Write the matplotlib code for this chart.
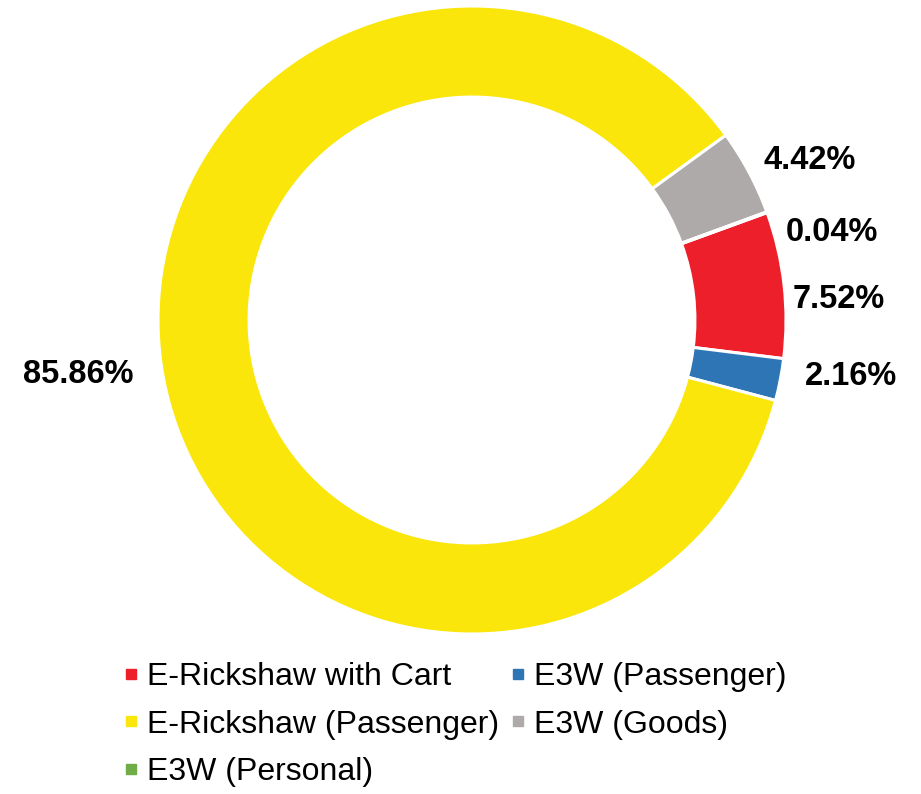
import numpy as np
import matplotlib.pyplot as plt
from matplotlib.lines import Line2D

plt.rcParams['font.family'] = ['Liberation Sans', 'DejaVu Sans']

# Datos (orden horario desde 20 grados)
categorias = ['E-Rickshaw with Cart', 'E3W (Passenger)', 'E-Rickshaw (Passenger)',
              'E3W (Goods)', 'E3W (Personal)']
valores = [7.52, 2.16, 85.86, 4.42, 0.04]
colores = ['#ED1F2B', '#2E75B6', '#FAE60A', '#AEAAAA', '#70AD47']
etiquetas = ['7.52%', '2.16%', '85.86%', '4.42%', '0.04%']

# Posición de etiquetas (ángulo en grados, distancia relativa al radio)
ang_etiq = [3.2, -8.5, 187.9, 25.3, 13.6]
dist_etiq = [1.17, 1.22, 1.265, 1.19, 1.18]

fig = plt.figure(figsize=(9.21, 7.94), dpi=100)
ax = fig.add_axes([158 / 921, 1 - 634 / 794, 628 / 921, 628 / 794])

ax.pie(valores, colors=colores, startangle=20, counterclock=False, radius=1,
       wedgeprops=dict(width=0.29, edgecolor='white', linewidth=2.2))

for txt, a, d in zip(etiquetas, ang_etiq, dist_etiq):
    ax.text(d * np.cos(np.radians(a)), d * np.sin(np.radians(a)), txt,
            ha='center', va='center', fontsize=23.5, fontweight='bold')

ax.set_xlim(-1, 1)
ax.set_ylim(-1, 1)
ax.set_aspect('equal')
ax.axis('off')

# Leyenda (orden por columnas para parecer fila a fila)
orden = [0, 2, 4, 1, 3]
handles = [Line2D([], [], marker='s', linestyle='none', markersize=6.5,
                  markerfacecolor=colores[i], markeredgecolor=colores[i]) for i in orden]
labels = [categorias[i] for i in orden]
fig.legend(handles, labels, loc='upper left', bbox_to_anchor=(123 / 921, 1 - 662 / 794),
           ncol=2, frameon=False, fontsize=23, handlelength=0.5, handletextpad=0.25,
           columnspacing=0.35, labelspacing=0.55, borderaxespad=0, borderpad=0)

fig.savefig('out.png', dpi=100)
